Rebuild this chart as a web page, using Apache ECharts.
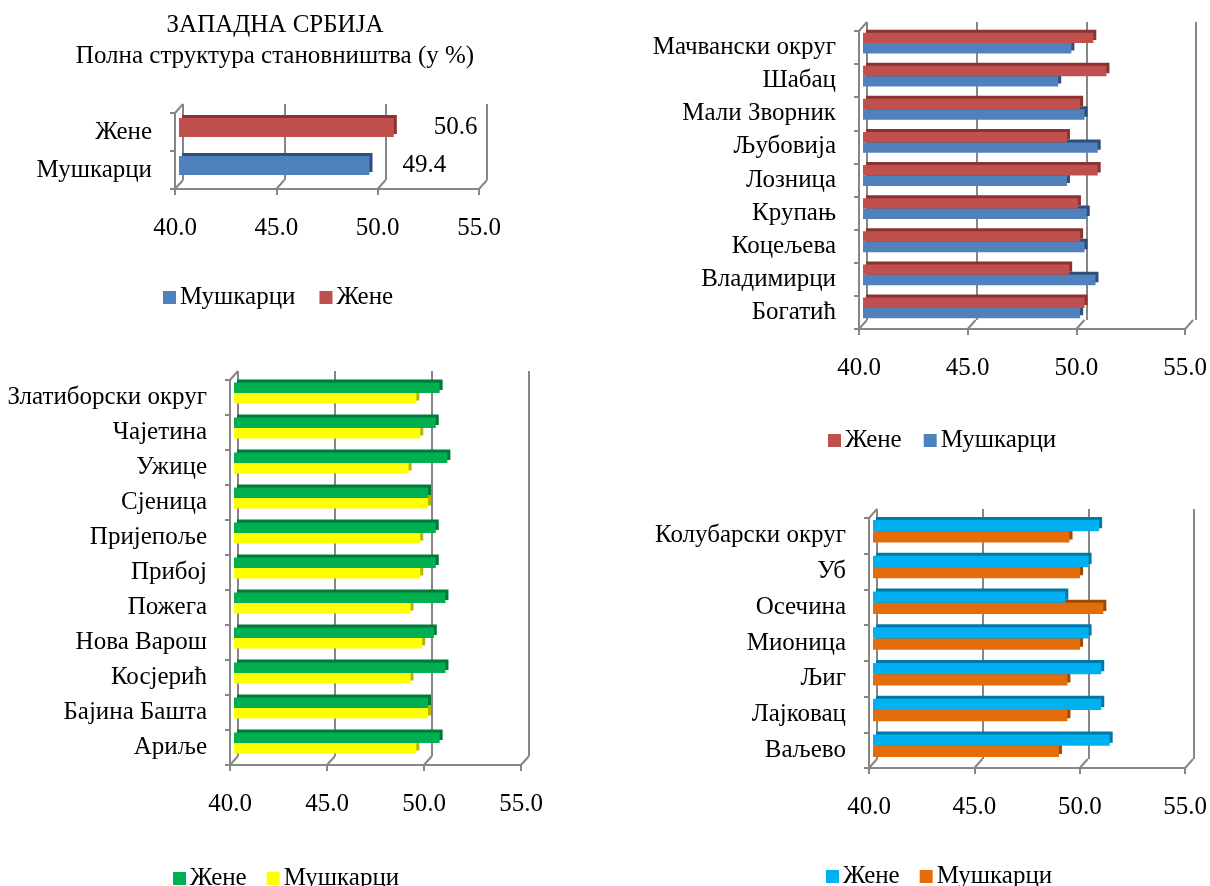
<!DOCTYPE html>
<html><head><meta charset="utf-8">
<script src="https://cdn.jsdelivr.net/npm/echarts@6/dist/echarts.min.js"></script>
<style>html,body{margin:0;padding:0;background:#fff}#c{width:1210px;height:886px}</style>
</head><body><div id="c"></div>
<script>
// ---- data ----
const valueTicks = [40, 45, 50, 55];

const serbiaCats = ['Жене', 'Мушкарци'];
const serbiaZene = [50.6, '-'];
const serbiaMuskarci = ['-', 49.4];

const macvaCats = ['Мачвански округ', 'Шабац', 'Мали Зворник', 'Љубовија', 'Лозница', 'Крупањ', 'Коцељева', 'Владимирци', 'Богатић'];
const macvaZene = [50.5, 51.1, 49.9, 49.3, 50.7, 49.8, 49.9, 49.4, 50.1];
const macvaMuskarci = [49.5, 48.9, 50.1, 50.7, 49.3, 50.2, 50.1, 50.6, 49.9];

const zlatiborCats = ['Златиборски округ', 'Чајетина', 'Ужице', 'Сјеница', 'Пријепоље', 'Прибој', 'Пожега', 'Нова Варош', 'Косјерић', 'Бајина Башта', 'Ариље'];
const zlatiborZene = [50.6, 50.4, 51.0, 50.0, 50.4, 50.4, 50.9, 50.3, 50.9, 50.0, 50.6];
const zlatiborMuskarci = [49.4, 49.6, 49.0, 50.0, 49.6, 49.6, 49.1, 49.7, 49.1, 50.0, 49.4];

const kolubaraCats = ['Колубарски округ', 'Уб', 'Осечина', 'Мионица', 'Љиг', 'Лајковац', 'Ваљево'];
const kolubaraZene = [50.7, 50.2, 49.1, 50.2, 50.8, 50.8, 51.2];
const kolubaraMuskarci = [49.3, 49.8, 50.9, 49.8, 49.2, 49.2, 48.8];

// ---- styling / layout ----
const FONT = 'Liberation Serif';
const FS = 25;
const GRID_C = '#868686';
const DX = 8, DY = -9;

const panels = [
  { rect: {left:175, top:113, width:304, height:76}, cats: serbiaCats, gap: '50%',
    series: [
      {name:'Мушкарци', data: serbiaMuskarci, color:'#4F81BD', edge:'#2F4F7A', labelDist: 33},
      {name:'Жене', data: serbiaZene, color:'#C0504D', edge:'#8A3330', labelDist: 40}
    ], overlap: true,
    legend: {left:158, top:280, order:['Мушкарци','Жене'], gap:24} },
  { rect: {left:859, top:31, width:329, height:298}, cats: macvaCats, gap: '37%',
    series: [
      {name:'Жене', data: macvaZene, color:'#C0504D', edge:'#8A3330'},
      {name:'Мушкарци', data: macvaMuskarci, color:'#4F81BD', edge:'#2F4F7A'}
    ],
    legend: {left:823, top:423, order:['Жене','Мушкарци'], gap:22} },
  { rect: {left:230, top:380, width:291, height:385}, cats: zlatiborCats, gap: '40%',
    series: [
      {name:'Жене', data: zlatiborZene, color:'#00B050', edge:'#007A38'},
      {name:'Мушкарци', data: zlatiborMuskarci, color:'#FFFF00', edge:'#B5B500'}
    ],
    legend: {left:168, top:861, order:['Жене','Мушкарци'], gap:20} },
  { rect: {left:869, top:518, width:317, height:250}, cats: kolubaraCats, gap: '37%',
    series: [
      {name:'Жене', data: kolubaraZene, color:'#00B0F0', edge:'#0079A8'},
      {name:'Мушкарци', data: kolubaraMuskarci, color:'#E46C0A', edge:'#9E4A06'}
    ],
    legend: {left:821, top:859, order:['Жене','Мушкарци'], gap:20} }
];

const option = {
  animation: false,
  backgroundColor: '#fff',
  textStyle: {fontFamily: FONT},
  grid: [], xAxis: [], yAxis: [], series: [], legend: [],
  graphic: [
    {type:'text', x:275, y:25, style:{text:'ЗАПАДНА СРБИЈА', font:`${FS}px "${FONT}"`, fill:'#000', textAlign:'center', textVerticalAlign:'middle'}},
    {type:'text', x:275, y:56, style:{text:'Полна структура становништва (у %)', font:`${FS}px "${FONT}"`, fill:'#000', textAlign:'center', textVerticalAlign:'middle'}}
  ]
};

panels.forEach((p, i) => {
  const r = p.rect;
  const base = option.grid.length;
  // back wall grid
  option.grid.push({left: r.left + DX, top: r.top + DY, width: r.width, height: r.height});
  // mid grid (bars)
  option.grid.push({left: r.left + DX/2, top: r.top + DY/2, width: r.width, height: r.height});
  // front grid (axes)
  option.grid.push({left: r.left, top: r.top, width: r.width, height: r.height});

  const xv = (gi, show) => ({
    type:'value', gridIndex: gi, min: valueTicks[0], max: valueTicks[valueTicks.length-1], interval: valueTicks[1]-valueTicks[0],
    axisLine: {show: show, lineStyle:{color: GRID_C, width: 2}},
    axisTick: {show: show, length: 6, lineStyle:{color: GRID_C, width: 2}},
    axisLabel: {show: show, margin: 27, fontSize: FS, color:'#000', fontFamily: FONT, formatter: v => v.toFixed(1)},
    splitLine: {show: gi === base, lineStyle:{color: GRID_C, width: 2}}
  });
  option.xAxis.push(xv(base, false), xv(base+1, false), xv(base+2, true));
  const yc = (gi, show) => ({
    type:'category', gridIndex: gi, data: p.cats, inverse: true,
    axisLine: {show: show, lineStyle:{color: GRID_C, width: 2}},
    axisTick: {show: show, length: 5, lineStyle:{color: GRID_C, width: 2}},
    axisLabel: {show: show, margin: 23, fontSize: FS, color:'#000', fontFamily: FONT},
    splitLine: {show:false}
  });
  option.yAxis.push(yc(base, false), yc(base+1, false), yc(base+2, true));

  p.series.forEach((s, k) => {
    const ser = {
      type:'bar', name: s.name, xAxisIndex: base+1, yAxisIndex: base+1,
      data: s.data, z: s.name === 'Жене' ? 4 : 3,
      barCategoryGap: p.gap, barGap: p.overlap ? '-100%' : '0%',
      itemStyle: {color: s.color, shadowColor: s.edge, shadowOffsetX: 3, shadowOffsetY: -3, shadowBlur: 0}
    };
    if (s.labelDist !== undefined) {
      ser.label = {show:true, position:'right', distance: s.labelDist, fontSize: FS, color:'#000', fontFamily: FONT, formatter: d => d.value.toFixed(1)};
    }
    option.series.push(ser);
  });

  // 3D connectors: from front ticks to back wall
  option.series.push({
    type:'custom', xAxisIndex: base+2, yAxisIndex: base+2, clip: false, silent: true, z: 1,
    data: valueTicks.map(v => [v, 0]),
    renderItem: (params, api) => {
      const cs = params.coordSys;
      const x = api.coord([api.value(0), 0])[0];
      const y = cs.y + cs.height;
      const children = [{type:'line', shape:{x1:x, y1:y, x2:x+DX, y2:y+DY}, style:{stroke: GRID_C, lineWidth: 2}}];
      if (params.dataIndex === 0) {
        children.push({type:'line', shape:{x1:cs.x, y1:cs.y, x2:cs.x+DX, y2:cs.y+DY}, style:{stroke: GRID_C, lineWidth: 2}});
      }
      return {type:'group', children};
    }
  });

  option.legend.push({
    left: p.legend.left, top: p.legend.top, itemWidth: 13, itemHeight: 13, itemGap: p.legend.gap, icon: 'rect',
    textStyle: {fontSize: FS, color:'#000', fontFamily: FONT, padding:[0,0,0,-1]},
    data: p.legend.order.map(n => ({name: n, itemStyle: {color: p.series.find(s => s.name === n).color}})),
    selectedMode: false
  });
});

const chart = echarts.init(document.getElementById('c'), null, {renderer:'canvas'});
chart.setOption(option);
</script></body></html>
